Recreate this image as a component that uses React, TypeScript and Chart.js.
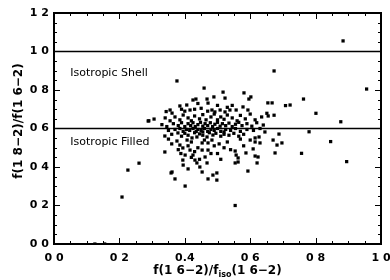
import React, { useEffect, useRef } from 'react';
import { Chart, registerables } from 'chart.js';

Chart.register(...registerables);

const X_MIN = 0;
const X_MAX = 1.0;
const Y_MIN = 0;
const Y_MAX = 1.2;
const MINOR_STEP = 0.05;
const MAJOR_STEP = 0.2;

const X_TICK_VALUES = [0, 0.2, 0.4, 0.6, 0.8, 1.0];
const X_TICK_LABELS = ['0 0', '0 2', '0.4', '0 6', '0 8', '1 0'];
const Y_TICK_VALUES = [0, 0.2, 0.4, 0.6, 0.8, 1.0, 1.2];
const Y_TICK_LABELS = ['0 0', '0 2', '0 4', '0 6', '0 8', '1 0', '1 2'];

const REFERENCE_LEVELS = [1.0, 0.6];
const REFERENCE_LABELS = ['Isotropic Shell', 'Isotropic Filled'];
const REFERENCE_LABEL_X = 0.05;
const REFERENCE_LABEL_Y = [0.873, 0.514];

const Y_TITLE = 'f(1 8\u22122)/f(1 6\u22122)';
const X_TITLE_MAIN = 'f(1 6\u22122)/f';
const X_TITLE_SUB = 'iso';
const X_TITLE_END = '(1 6\u22122)';

// sparse outliers
const OUTLIER_POINTS: [number, number][] = [
  [0.884, 1.055], [0.673, 0.899], [0.376, 0.847], [0.956, 0.805], [0.763, 0.753],
  [0.708, 0.719], [0.722, 0.722], [0.801, 0.679], [0.877, 0.635], [0.78, 0.583],
  [0.846, 0.532], [0.757, 0.471], [0.895, 0.428], [0.554, 0.2], [0.208, 0.244],
  [0.226, 0.384], [0.26, 0.42], [0.288, 0.639], [0.306, 0.649], [0.339, 0.561],
  [0.339, 0.478], [0.358, 0.369], [0.37, 0.338], [0.401, 0.301], [0.125, 0.0],
  [0.155, 0.0],
];

// lower half of the cloud
const LOWER_POINTS: [number, number][] = [
  [0.361, 0.374], [0.376, 0.535], [0.385, 0.514], [0.394, 0.499], [0.407, 0.54],
  [0.416, 0.488], [0.401, 0.462], [0.394, 0.436], [0.425, 0.462], [0.431, 0.436],
  [0.437, 0.421], [0.446, 0.4], [0.453, 0.374], [0.468, 0.421], [0.462, 0.452],
  [0.453, 0.488], [0.471, 0.488], [0.471, 0.525], [0.453, 0.525], [0.483, 0.54],
  [0.388, 0.47], [0.41, 0.51], [0.42, 0.53], [0.44, 0.5], [0.43, 0.48],
  [0.46, 0.54], [0.49, 0.51], [0.5, 0.47], [0.51, 0.44], [0.52, 0.5],
  [0.53, 0.53], [0.54, 0.49], [0.486, 0.358], [0.498, 0.369], [0.498, 0.332],
  [0.471, 0.338], [0.554, 0.483], [0.587, 0.473], [0.609, 0.494], [0.615, 0.457],
  [0.624, 0.452], [0.621, 0.421], [0.563, 0.426], [0.563, 0.447], [0.554, 0.421],
  [0.593, 0.379], [0.557, 0.462], [0.615, 0.53], [0.63, 0.525], [0.67, 0.54],
  [0.682, 0.514], [0.697, 0.525], [0.676, 0.473], [0.38, 0.49], [0.36, 0.52],
  [0.35, 0.545], [0.395, 0.41], [0.41, 0.39], [0.42, 0.45], [0.445, 0.44],
  [0.48, 0.47], [0.505, 0.52], [0.58, 0.51], [0.6, 0.54], [0.57, 0.545],
];

// dense middle band
const MIDDLE_POINTS: [number, number][] = [
  [0.36, 0.57], [0.379, 0.577], [0.39, 0.56], [0.4, 0.575], [0.41, 0.565],
  [0.422, 0.551], [0.437, 0.556], [0.445, 0.572], [0.455, 0.565], [0.468, 0.556],
  [0.486, 0.566], [0.495, 0.575], [0.51, 0.56], [0.52, 0.57], [0.535, 0.565],
  [0.55, 0.575], [0.565, 0.56], [0.58, 0.57], [0.615, 0.551], [0.627, 0.556],
  [0.645, 0.582], [0.688, 0.571], [0.43, 0.578], [0.475, 0.578],
  [0.35, 0.59], [0.37, 0.595], [0.385, 0.6], [0.395, 0.585], [0.405, 0.595],
  [0.415, 0.59], [0.425, 0.6], [0.435, 0.585], [0.44, 0.595], [0.45, 0.59],
  [0.46, 0.6], [0.47, 0.585], [0.48, 0.595], [0.49, 0.59], [0.5, 0.6],
  [0.51, 0.585], [0.525, 0.595], [0.54, 0.59], [0.555, 0.6], [0.57, 0.585],
  [0.59, 0.595], [0.61, 0.59], [0.63, 0.6], [0.52, 0.582], [0.455, 0.582],
  [0.33, 0.62], [0.345, 0.61], [0.365, 0.625], [0.38, 0.615], [0.39, 0.63],
  [0.4, 0.61], [0.41, 0.625], [0.418, 0.615], [0.425, 0.63], [0.432, 0.61],
  [0.44, 0.62], [0.448, 0.632], [0.455, 0.612], [0.462, 0.625], [0.47, 0.615],
  [0.478, 0.63], [0.485, 0.61], [0.492, 0.622], [0.5, 0.632], [0.508, 0.612],
  [0.515, 0.625], [0.525, 0.615], [0.535, 0.628], [0.545, 0.61], [0.555, 0.622],
  [0.565, 0.632], [0.575, 0.615], [0.59, 0.625], [0.605, 0.612], [0.62, 0.63],
  [0.64, 0.618],
  [0.29, 0.64], [0.34, 0.655], [0.355, 0.64], [0.37, 0.66], [0.385, 0.645],
  [0.395, 0.67], [0.41, 0.655], [0.42, 0.64], [0.43, 0.665], [0.445, 0.65],
  [0.455, 0.672], [0.465, 0.645], [0.48, 0.66], [0.49, 0.675], [0.5, 0.645],
  [0.51, 0.66], [0.52, 0.648], [0.53, 0.67], [0.545, 0.655], [0.56, 0.64],
  [0.57, 0.668], [0.585, 0.65], [0.6, 0.675], [0.615, 0.645], [0.635, 0.66],
  [0.655, 0.665],
];

// upper part of the cloud
const UPPER_POINTS: [number, number][] = [
  [0.343, 0.688], [0.355, 0.696], [0.361, 0.68], [0.385, 0.717], [0.39, 0.7],
  [0.406, 0.722], [0.416, 0.696], [0.425, 0.748], [0.434, 0.753], [0.44, 0.73],
  [0.45, 0.705], [0.459, 0.81], [0.468, 0.753], [0.471, 0.732], [0.483, 0.696],
  [0.489, 0.764], [0.492, 0.686], [0.508, 0.696], [0.517, 0.789], [0.523, 0.758],
  [0.523, 0.686], [0.538, 0.696], [0.545, 0.72], [0.557, 0.696], [0.578, 0.712],
  [0.581, 0.785], [0.593, 0.696], [0.596, 0.753], [0.602, 0.764], [0.654, 0.733],
  [0.667, 0.733], [0.651, 0.679], [0.673, 0.669], [0.4, 0.69], [0.43, 0.7],
  [0.5, 0.72], [0.53, 0.71], [0.47, 0.69],
];

const FONT = 'DejaVu Sans';
const INK = '#000000';

const framePlugin = {
  id: 'idlFrame',
  afterDraw(chart: any) {
    const ctx: CanvasRenderingContext2D = chart.ctx;
    const xs = chart.scales.x;
    const ys = chart.scales.y;
    const left = Math.round(xs.getPixelForValue(X_MIN));
    const right = Math.round(xs.getPixelForValue(X_MAX));
    const top = Math.round(ys.getPixelForValue(Y_MAX));
    const bottom = Math.round(ys.getPixelForValue(Y_MIN));
    ctx.save();
    ctx.fillStyle = INK;
    // frame
    ctx.fillRect(left - 1, top - 1, right - left + 2, 2);
    ctx.fillRect(left - 1, bottom - 1, right - left + 2, 2);
    ctx.fillRect(left - 1, top - 1, 2, bottom - top + 2);
    ctx.fillRect(right - 1, top - 1, 2, bottom - top + 2);

    // inward major / minor ticks on all four sides
    const majorLen = 6;
    const minorLen = 3;
    const perMajor = Math.round(MAJOR_STEP / MINOR_STEP);
    const nx = Math.round((X_MAX - X_MIN) / MINOR_STEP);
    for (let i = 0; i <= nx; i++) {
      const px = Math.round(xs.getPixelForValue(X_MIN + i * MINOR_STEP));
      const len = i % perMajor === 0 ? majorLen : minorLen;
      ctx.fillRect(px, bottom - len, 1, len);
      ctx.fillRect(px, top, 1, len);
    }
    const ny = Math.round((Y_MAX - Y_MIN) / MINOR_STEP);
    for (let i = 0; i <= ny; i++) {
      const py = Math.round(ys.getPixelForValue(Y_MIN + i * MINOR_STEP));
      const len = i % perMajor === 0 ? majorLen : minorLen;
      ctx.fillRect(left, py, len, 1);
      ctx.fillRect(right - len, py, len, 1);
    }

    // reference labels
    ctx.font = `11px "${FONT}"`;
    ctx.textAlign = 'left';
    ctx.textBaseline = 'alphabetic';
    REFERENCE_LABELS.forEach((t, i) => {
      ctx.fillText(t, xs.getPixelForValue(REFERENCE_LABEL_X), ys.getPixelForValue(REFERENCE_LABEL_Y[i]));
    });

    // y title
    ctx.font = `bold 12px "${FONT}"`;
    ctx.save();
    ctx.translate(21.5, 121);
    ctx.rotate(-Math.PI / 2);
    ctx.textAlign = 'center';
    ctx.fillText(Y_TITLE, 0, 0);
    ctx.restore();

    // x title with subscript
    const mainFont = `bold 12px "${FONT}"`;
    const subFont = `bold 8px "${FONT}"`;
    ctx.font = mainFont;
    const w1 = ctx.measureText(X_TITLE_MAIN).width;
    const w3 = ctx.measureText(X_TITLE_END).width;
    ctx.font = subFont;
    const w2 = ctx.measureText(X_TITLE_SUB).width;
    const cx = (left + right) / 2;
    let x0 = cx - (w1 + w2 + w3) / 2;
    const base = 274;
    ctx.textAlign = 'left';
    ctx.font = mainFont;
    ctx.fillText(X_TITLE_MAIN, x0, base);
    x0 += w1;
    ctx.font = subFont;
    ctx.fillText(X_TITLE_SUB, x0, base + 2.5);
    x0 += w2;
    ctx.font = mainFont;
    ctx.fillText(X_TITLE_END, x0, base);
    ctx.restore();
  },
};

const tickFont = { family: FONT, size: 11, weight: 'bold' as const };

export default function App() {
  const canvasRef = useRef<HTMLCanvasElement | null>(null);

  useEffect(() => {
    const canvas = canvasRef.current;
    if (!canvas) return;
    const toXY = (arr: [number, number][]) => arr.map(([x, y]) => ({ x, y }));
    const allPoints = [
      ...toXY(OUTLIER_POINTS),
      ...toXY(LOWER_POINTS),
      ...toXY(MIDDLE_POINTS),
      ...toXY(UPPER_POINTS),
    ];
    const refDatasets = REFERENCE_LEVELS.map((lvl) => ({
      type: 'line',
      data: [{ x: X_MIN, y: lvl }, { x: X_MAX, y: lvl }],
      borderColor: INK,
      borderWidth: 1.6,
      pointRadius: 0,
      showLine: true,
      fill: false,
    }));
    const chart = new Chart(canvas, {
      type: 'scatter',
      data: {
        datasets: [
          {
            data: allPoints,
            backgroundColor: INK,
            borderWidth: 0,
            pointStyle: 'rect',
            pointRadius: 2.3,
          } as any,
          ...(refDatasets as any),
        ],
      },
      options: {
        animation: false,
        responsive: false,
        devicePixelRatio: 1,
        layout: { padding: { left: 0, right: 9, top: 13, bottom: 0 } },
        plugins: { legend: { display: false }, tooltip: { enabled: false } },
        scales: {
          x: {
            type: 'linear',
            min: X_MIN,
            max: X_MAX,
            grid: { display: false, drawTicks: false },
            border: { display: false },
            afterBuildTicks: (s: any) => {
              s.ticks = X_TICK_VALUES.map((v) => ({ value: v }));
            },
            afterFit: (s: any) => {
              s.height = 36;
              s.paddingLeft = 0;
              s.paddingRight = 0;
            },
            ticks: {
              autoSkip: false,
              maxRotation: 0,
              padding: 8,
              color: INK,
              font: tickFont,
              callback: (v: any) => {
                const i = X_TICK_VALUES.findIndex((t) => Math.abs(t - Number(v)) < 1e-6);
                return i >= 0 ? X_TICK_LABELS[i] : '';
              },
            },
          },
          y: {
            type: 'linear',
            min: Y_MIN,
            max: Y_MAX,
            grid: { display: false, drawTicks: false },
            border: { display: false },
            afterBuildTicks: (s: any) => {
              s.ticks = Y_TICK_VALUES.map((v) => ({ value: v }));
            },
            afterFit: (s: any) => {
              s.width = 54;
              s.paddingTop = 0;
              s.paddingBottom = 0;
            },
            ticks: {
              autoSkip: false,
              padding: 5,
              color: INK,
              font: tickFont,
              callback: (v: any) => {
                const i = Y_TICK_VALUES.findIndex((t) => Math.abs(t - Number(v)) < 1e-6);
                return i >= 0 ? Y_TICK_LABELS[i] : '';
              },
            },
          },
        },
      },
      plugins: [framePlugin],
    });
    return () => chart.destroy();
  }, []);

  return (
    <div style={{ position: 'absolute', left: 0, top: 0, width: 390, height: 280, background: '#fff' }}>
      <canvas ref={canvasRef} width={390} height={280} style={{ width: 390, height: 280, display: 'block' }} />
    </div>
  );
}
